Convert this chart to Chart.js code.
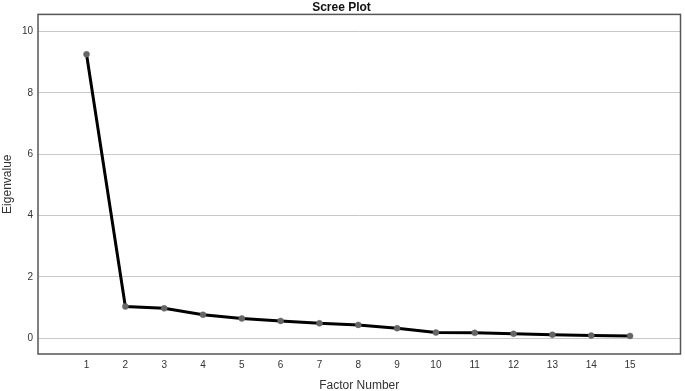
<!DOCTYPE html>
<html>
<head>
<meta charset="utf-8">
<script src="https://cdn.jsdelivr.net/npm/chart.js@4"></script>
<style>
    html, body { margin: 0; padding: 0; background: #fff; }
    #wrap { width: 685px; height: 391px; }
</style>
</head>
<body>
<div id="wrap"><canvas id="screeChart"></canvas></div>
<script>
// Scree plot data
const factors = [1, 2, 3, 4, 5, 6, 7, 8, 9, 10, 11, 12, 13, 14, 15];
const eigenvalues = [9.26, 1.03, 0.97, 0.76, 0.64, 0.56, 0.48, 0.43, 0.32, 0.18, 0.17, 0.14, 0.11, 0.08, 0.07];
const yTicks = [0, 2, 4, 6, 8, 10];

// draws the frame round the plot area
const boxBorder = {
    id: 'boxBorder',
    afterDraw(chart) {
        const a = chart.chartArea;
        const ctx = chart.ctx;
        ctx.save();
        ctx.strokeStyle = '#555';
        ctx.lineWidth = 1.5;
        ctx.strokeRect(a.left, a.top, a.right - a.left, a.bottom - a.top);
        ctx.restore();
    }
};

document.addEventListener('DOMContentLoaded', function() {
    const ctx = document.getElementById('screeChart').getContext('2d');
    new Chart(ctx, {
        type: 'line',
        data: {
            datasets: [{
                data: factors.map((f, i) => ({ x: f, y: eigenvalues[i] })),
                borderColor: '#000',
                borderWidth: 3,
                pointRadius: 3,
                pointBorderWidth: 0.5,
                pointBackgroundColor: '#666',
                pointBorderColor: '#666',
                tension: 0
            }]
        },
        options: {
            responsive: true,
            maintainAspectRatio: false,
            animation: false,
            layout: { padding: { right: 2 } },
            plugins: {
                legend: { display: false },
                tooltip: { enabled: false },
                title: {
                    display: true,
                    text: 'Scree Plot',
                    color: '#111',
                    font: { family: 'Liberation Sans', size: 12, weight: 'bold' },
                    padding: { top: 0, bottom: 0 }
                }
            },
            scales: {
                x: {
                    type: 'linear',
                    min: -0.25,
                    max: 16.3,
                    afterBuildTicks: s => { s.ticks = factors.map(v => ({ value: v })); },
                    afterFit: s => { s.height = 37; },
                    grid: { display: false, drawTicks: false },
                    border: { display: false },
                    ticks: { color: '#333', padding: 5, font: { family: 'Liberation Sans', size: 10 } },
                    title: {
                        display: true,
                        text: 'Factor Number',
                        color: '#333',
                        padding: { top: 9, bottom: -2 },
                        font: { family: 'Liberation Sans', size: 12 }
                    }
                },
                y: {
                    min: -0.52,
                    max: 10.56,
                    afterBuildTicks: s => { s.ticks = yTicks.map(v => ({ value: v })); },
                    afterFit: s => { s.width = 38; },
                    grid: { color: '#c8c8c8', lineWidth: 1, drawTicks: false },
                    border: { display: false },
                    ticks: { color: '#333', padding: 5, font: { family: 'Liberation Sans', size: 10 } },
                    title: {
                        display: true,
                        text: 'Eigenvalue',
                        color: '#333',
                        padding: { top: 0, bottom: 4 },
                        font: { family: 'Liberation Sans', size: 12 }
                    }
                }
            }
        },
        plugins: [boxBorder]
    });
});
</script>
</body>
</html>
